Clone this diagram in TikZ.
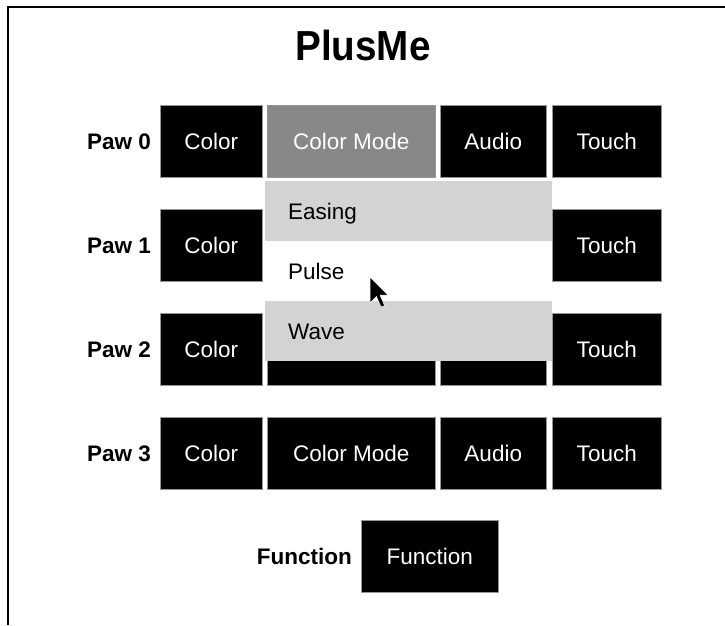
\documentclass[tikz,border=0pt]{standalone}
\usepackage{fontspec}
\setmainfont{Liberation Sans}
\definecolor{hilite}{RGB}{136,136,136}
\definecolor{menugray}{RGB}{211,211,211}
\definecolor{edgegray}{RGB}{150,150,150}
\newcommand{\uifont}{\fontsize{22.5}{27}\selectfont}
\begin{document}
\begin{tikzpicture}[x=1pt,y=-1pt,
  cell/.style={fill=black, draw=edgegray, line width=0.5pt, text=white,
    font=\uifont, inner sep=0pt, text height=16pt, text depth=0pt,
    minimum height=72pt, anchor=north west},
  wColor/.style={cell, minimum width=102pt},
  wMode/.style={cell, minimum width=168pt},
  wAudio/.style={cell, minimum width=106pt},
  wTouch/.style={cell, minimum width=109pt},
  rowlabel/.style={font=\uifont\bfseries, anchor=east, inner sep=0pt,
    text height=16pt, text depth=0pt},
  item/.style={fill=#1, draw=none, minimum width=287pt, minimum height=60pt,
    anchor=north west, inner sep=0pt},
  itemtext/.style={font=\uifont, anchor=west, inner sep=0pt,
    text height=16pt, text depth=0pt},
]
\useasboundingbox (0,0) rectangle (725,625);
\fill[white] (0,0) rectangle (725,625);
% frame edges
\draw[line width=2pt] (8,625) -- (8,7) -- (725,7);

% heading
\node[font=\bfseries\fontsize{42}{50}\selectfont, inner sep=0pt, xscale=0.92] (title) at (363,45) {PlusMe};

% paw rows: rows 0 and 3 fully visible
\foreach \r/\top in {0/105,3/417}{
  \node[wMode]  (mode\r)  at (267,\top) {Color Mode};
  \node[wAudio] (audio\r) at (440,\top) {Audio};
}
% rows 1 and 2: middle buttons sit under the open menu
\foreach \r/\top in {1/209,2/313}{
  \node[wMode]  (mode\r)  at (267,\top) {};
  \node[wAudio] (audio\r) at (440,\top) {};
}
\foreach \r/\top in {0/105,1/209,2/313,3/417}{
  \node[rowlabel] (paw\r) at (151,\top+36) {Paw \r};
  \node[wColor] (color\r) at (160,\top) {Color};
  \node[wTouch] (touch\r) at (552,\top) {Touch};
}
% selected mode button
\node[wMode, fill=hilite] (mode0sel) at (267,105) {Color Mode};

% function row
\node[rowlabel] (fnlabel) at (352,556) {Function};
\node[cell, minimum width=137pt] (fnbox) at (361,520) {Function};

% open menu
\node[item=menugray] (easing) at (265,181) {};
\node[item=white]    (pulse)  at (265,241) {};
\node[item=menugray] (wave)   at (265,301) {};
\node[itemtext] at ([xshift=23pt]easing.west) {Easing};
\node[itemtext] at ([xshift=23pt]pulse.west) {Pulse};
\node[itemtext] at ([xshift=23pt]wave.west) {Wave};

% mouse pointer
\coordinate (tip) at (370,277);
\fill[black, draw=white, line width=0.5pt, shift={(tip)}]
  (0,0) -- (0,26) -- (6.4,19.5) -- (11,30) -- (14.6,28.6) -- (10,18) -- (18,18) -- cycle;
\end{tikzpicture}
\end{document}
